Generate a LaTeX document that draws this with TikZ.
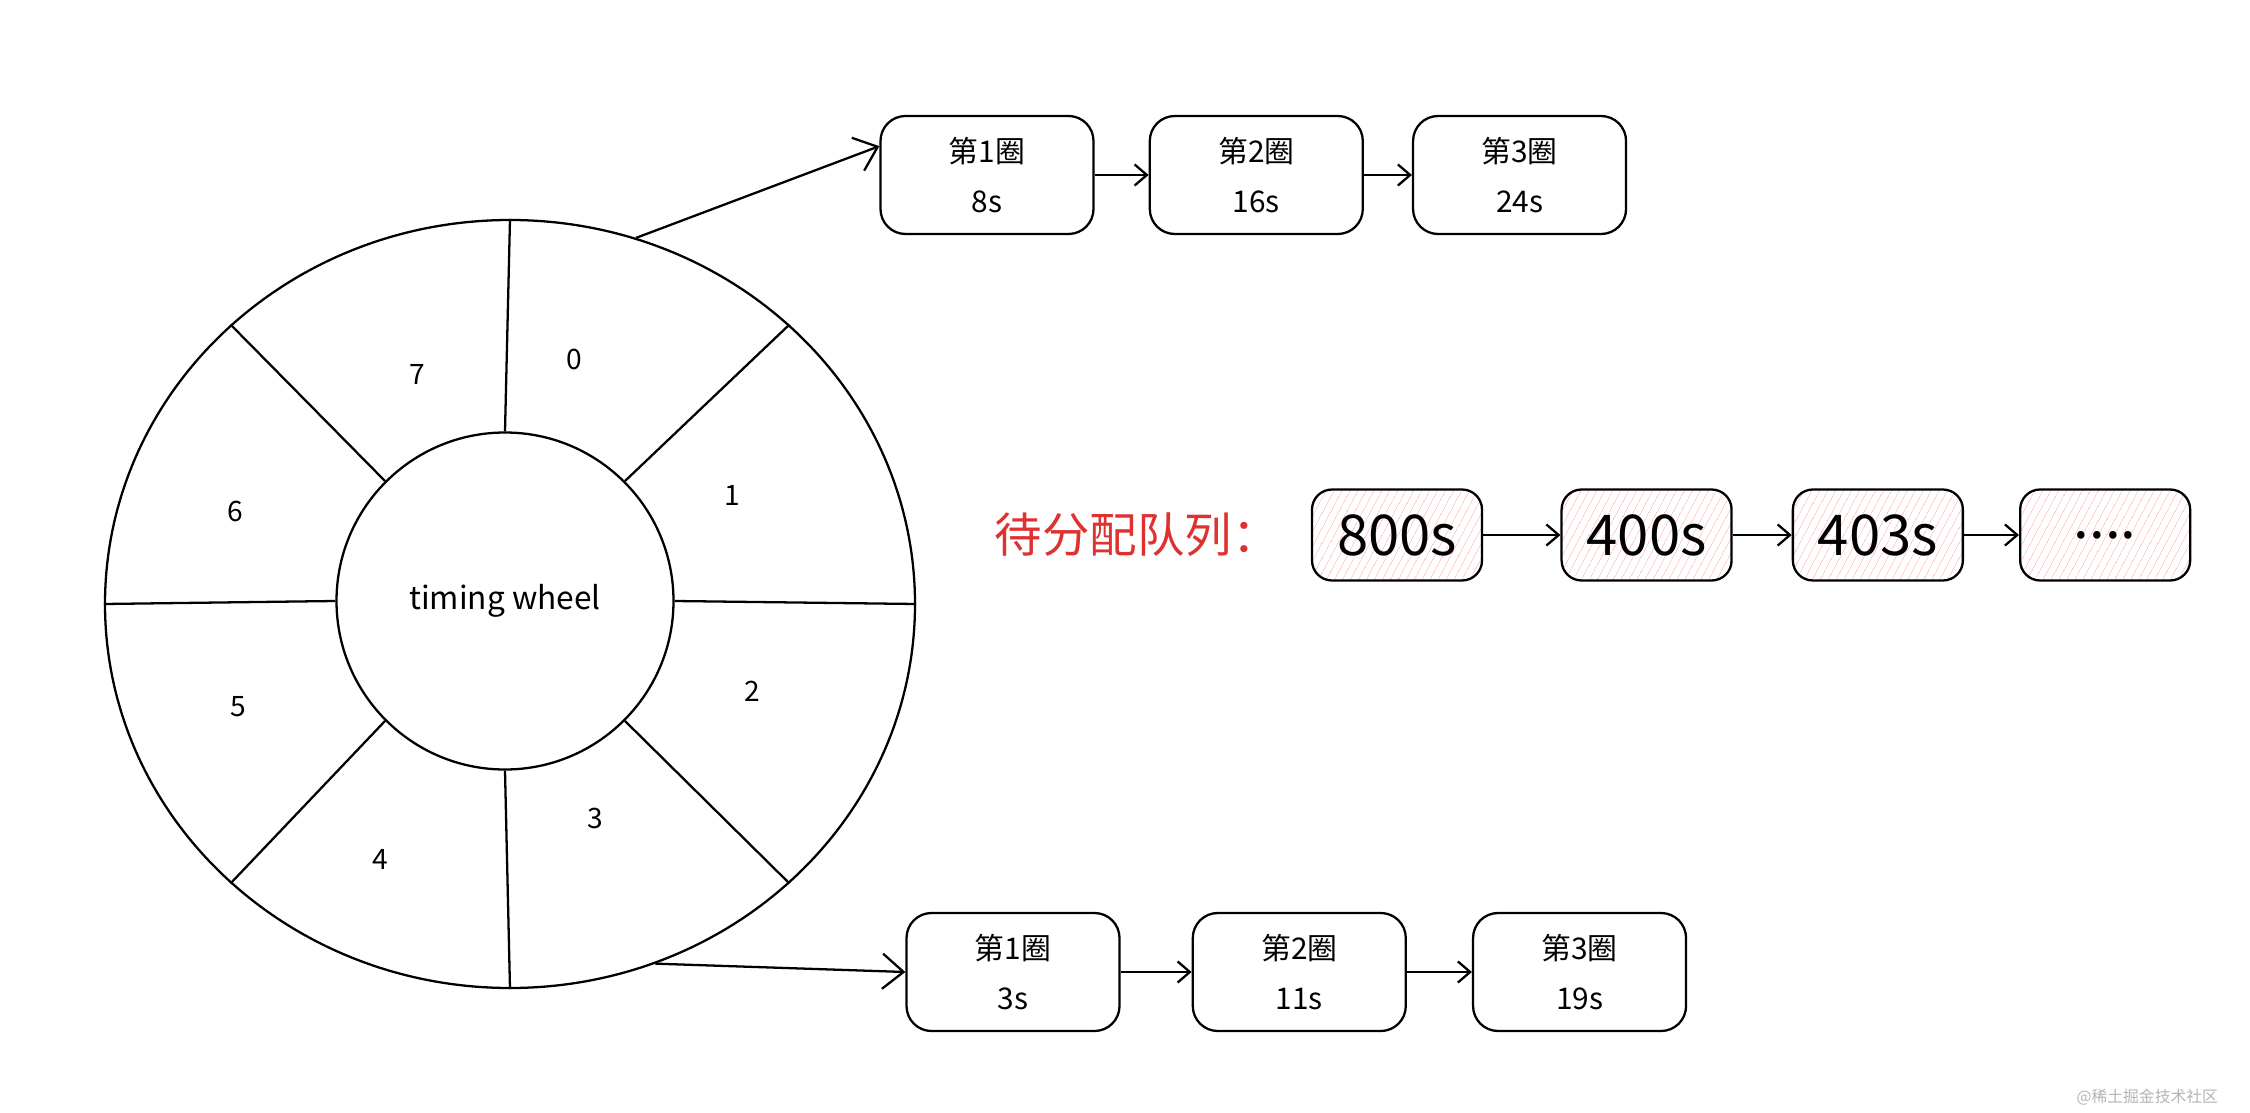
\documentclass[tikz,border=0pt]{standalone}
\usepackage{fontspec}
\setmainfont{Noto Sans CJK SC}
\usetikzlibrary{positioning,shapes.geometric,arrows.meta,patterns.meta}
\definecolor{alarm}{HTML}{E03131}
\definecolor{hatch}{HTML}{FFA8A8}
\definecolor{wmgrey}{HTML}{B4B4B4}
\begin{document}
\begin{tikzpicture}[line width=1.3pt,
    lap/.style = {draw, rounded corners=0.5cm, minimum width=4.26cm, minimum height=2.36cm, align=center, font=\fontsize{17}{28}\selectfont},
    slot/.style = {font=\fontsize{16}{16}\selectfont},
    pending/.style = {draw, rounded corners=0.4cm, minimum width=3.4cm, minimum height=1.82cm, pattern={Lines[angle=62,distance=4pt,line width=0.5pt]}, pattern color=hatch, font=\fontsize{32}{32}\selectfont},
    link/.style = {-{Straight Barb[length=7pt,width=12pt]}}]
    \useasboundingbox (0,0) rectangle (45,22.24);

    % wheel
    \node[draw, ellipse, minimum width=16.2cm, minimum height=15.36cm] (wheel) at (10.2,10.16) {};
    \node[draw, circle, minimum size=6.74cm, font=\fontsize{18}{18}\selectfont] (hub) at (10.1,10.22) {timing wheel};
    \foreach \a in {0,45,...,315}
        \draw (hub.\a) -- (wheel.\a);

    \node[slot] (s0) at (11.48,15.06) {0};
    \node[slot] (s1) at (14.64,12.34) {1};
    \node[slot] (s2) at (15.04,8.42) {2};
    \node[slot] (s3) at (11.9,5.88) {3};
    \node[slot] (s4) at (7.6,5.06) {4};
    \node[slot] (s5) at (4.76,8.1) {5};
    \node[slot] (s6) at (4.7,12.02) {6};
    \node[slot] (s7) at (8.34,14.76) {7};

    % laps of slot 0
    \node[lap] (t1) at (19.74,18.74) {第1圈\\8s};
    \node[lap] (t2) [right=1.08cm of t1] {第2圈\\16s};
    \node[lap] (t3) [right=0.96cm of t2] {第3圈\\24s};

    % laps of slot 3
    \node[lap] (b1) at (20.26,2.8) {第1圈\\3s};
    \node[lap] (b2) [right=1.42cm of b1] {第2圈\\11s};
    \node[lap] (b3) [right=1.3cm of b2] {第3圈\\19s};

    % waiting queue
    \node[pending] (q1) at (27.94,11.54) {800s};
    \node[pending] (q2) [right=1.56cm of q1] {400s};
    \node[pending] (q3) [right=1.18cm of q2] {403s};
    \node[pending] (q4) [right=1.1cm of q3] {....};
    \node[text=alarm, font=\fontsize{27}{27}\selectfont, left=0.5cm of q1] (title) {待分配队列：};

    \draw[-{Straight Barb[length=12pt,width=20pt]}] (wheel.71) -- (t1.165);
    \draw[-{Straight Barb[length=12pt,width=20pt]}] (wheel.-68) -- (b1.west);
    \draw[link] (t1) -- (t2);
    \draw[link] (t2) -- (t3);
    \draw[link] (b1) -- (b2);
    \draw[link] (b2) -- (b3);
    \draw[link] (q1) -- (q2);
    \draw[link] (q2) -- (q3);
    \draw[link] (q3) -- (q4);

    \node[anchor=east, text=wmgrey, font=\fontsize{9}{9}\selectfont] (credit) at (44.5,0.3) {@稀土掘金技术社区};
\end{tikzpicture}
\end{document}
